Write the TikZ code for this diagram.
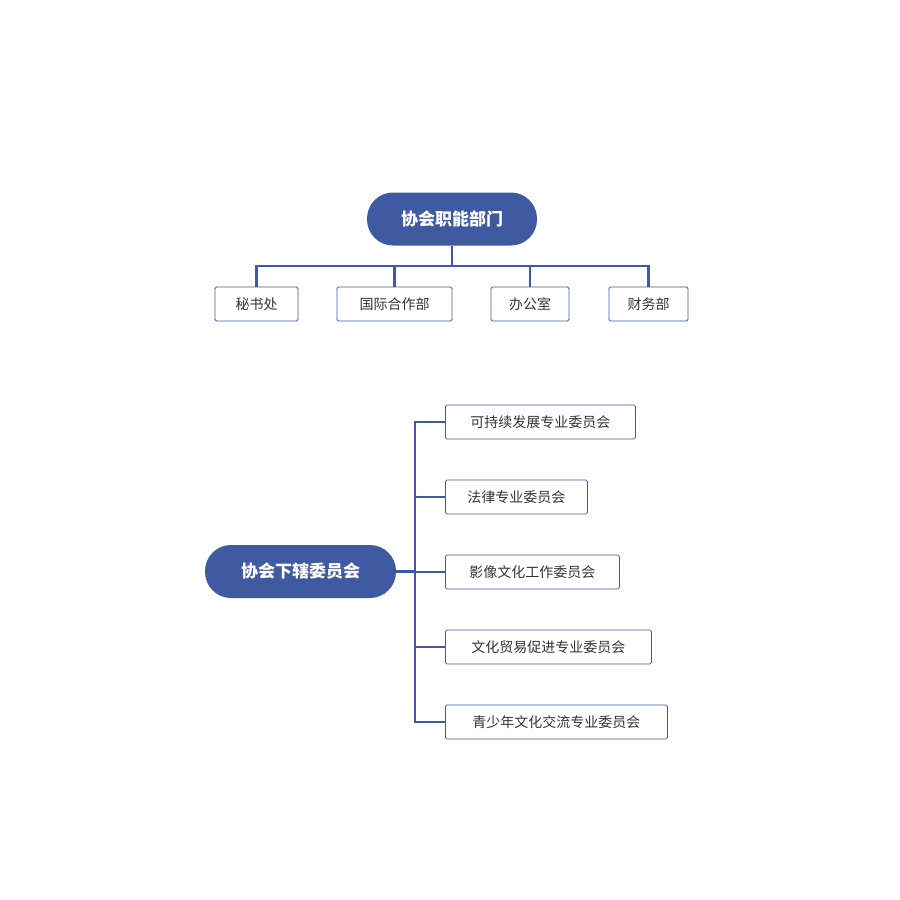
\documentclass[tikz,border=0pt]{standalone}
\usepackage{fontspec}
\setmainfont{Noto Sans CJK SC}
\begin{document}
\begin{tikzpicture}[x=1pt,y=-1pt,
  root/.style={rounded corners=26pt,fill=blue1,text=white,font=\fontsize{17}{20}\selectfont\bfseries,inner sep=0pt},
  leaf/.style={draw=blue1,line width=0.8pt,rounded corners=1.5pt,text=black!80,font=\fontsize{14}{17}\selectfont,inner sep=0pt,minimum height=34pt},
  conn/.style={draw=blue1,line width=2.5pt}]
\definecolor{blue1}{HTML}{3F5AA0}
\useasboundingbox (0,0) rectangle (900,900);
\node[root,minimum width=170pt,minimum height=53pt] (r1) at (452,219) {协会职能部门};
\node[leaf,minimum width=83pt] (a1) at (256.5,304) {秘书处};
\node[leaf,minimum width=115pt] (a2) at (394.5,304) {国际合作部};
\node[leaf,minimum width=78pt] (a3) at (530,304) {办公室};
\node[leaf,minimum width=79pt] (a4) at (648.5,304) {财务部};
\coordinate (h) at (452,266);
\draw[conn] (r1.south) -- (h);
\draw[conn] (a1.north) |- (h) -| (a4.north);
\draw[conn] (a2.north) -- (a2.north |- h);
\draw[conn] (a3.north) -- (a3.north |- h);

\node[root,minimum width=191pt,minimum height=53pt] (r2) at (300.5,571.5) {协会下辖委员会};
\node[leaf,minimum width=190pt,anchor=west] (b1) at (445,422) {可持续发展专业委员会};
\node[leaf,minimum width=142pt,anchor=west] (b2) at (445,497) {法律专业委员会};
\node[leaf,minimum width=174pt,anchor=west] (b3) at (445,572) {影像文化工作委员会};
\node[leaf,minimum width=206pt,anchor=west] (b4) at (445,647) {文化贸易促进专业委员会};
\node[leaf,minimum width=222pt,anchor=west] (b5) at (445,722) {青少年文化交流专业委员会};
\coordinate (v) at (415,571.5);
\draw[conn] (r2.east) -- (v);
\draw[conn] (b1.west) -| (v) |- (b5.west);
\draw[conn] (b2.west) -- (b2.west -| v);
\draw[conn] (b3.west) -- (b3.west -| v);
\draw[conn] (b4.west) -- (b4.west -| v);
\end{tikzpicture}
\end{document}
